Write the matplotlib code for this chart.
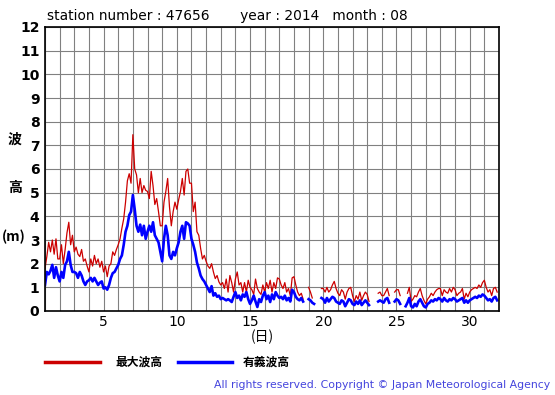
import numpy as np
import matplotlib
matplotlib.use("Agg")
import matplotlib.pyplot as plt
from matplotlib.lines import Line2D

plt.rcParams['font.family'] = ['DejaVu Sans', 'Noto Sans CJK JP']

station = "47656"
year = "2014"
month = "08"

# 3-hourly values, one row per day (Aug 1 .. Aug 31), nan = missing
hmax = [
    1.8, 2.3, 2.9, 2.5, 3.0, 2.4, 3.05, 2.2,
    2.2, 2.8, 2.0, 2.6, 3.3, 3.75, 2.8, 3.2,
    2.5, 2.7, 2.4, 2.3, 2.6, 2.1, 2.2, 1.9,
    1.65, 2.2, 1.9, 2.35, 2.0, 2.2, 1.85, 2.1,
    1.65, 1.9, 1.45, 1.9, 2.0, 2.5, 2.35, 2.6,
    2.8, 3.05, 3.5, 3.9, 4.6, 5.5, 5.8, 5.4,
    7.45, 6.0, 5.75, 5.0, 5.6, 5.0, 5.3, 5.1,
    5.05, 4.75, 5.9, 5.3, 4.5, 4.75, 4.2, 3.6,
    3.6, 4.6, 5.05, 5.6, 4.4, 3.6, 4.2, 4.6,
    4.3, 4.7, 5.05, 5.6, 4.9, 5.9, 6.0, 5.4,
    5.4, 4.2, 4.6, 3.35, 3.2, 2.65, 2.2, 2.35,
    2.1, 1.9, 1.8, 2.0, 1.65, 1.37, 1.5, 1.23,
    1.1, 1.2, 0.95, 1.35, 0.8, 1.5, 1.2, 0.8,
    1.35, 1.65, 1.1, 1.2, 0.8, 1.2, 0.8, 1.3,
    1.0, 0.9, 0.7, 1.35, 0.95, 0.8, 0.7, 1.1,
    0.8, 1.2, 0.95, 1.3, 0.8, 1.2, 0.95, 1.4,
    1.35, 1.1, 0.95, 1.2, 0.8, 0.95, 0.65, 1.4,
    1.45, 1.1, 0.8, 0.65, 0.75, 0.5, np.nan, np.nan,
    1.0, 0.8, 0.55, np.nan, np.nan, np.nan, np.nan, 0.95,
    0.95, 0.8, 1.0, 0.8, 0.9, 1.1, 1.25, 0.95,
    0.75, 0.65, 0.9, 0.8, 0.5, 0.8, 0.95, 1.0,
    0.65, 0.4, 0.65, 0.5, 0.8, 0.45, 0.65, 0.8,
    0.7, 0.4, np.nan, np.nan, np.nan, np.nan, 0.75, 0.8,
    0.65, 0.65, 0.8, 0.95, 0.65, np.nan, np.nan, 0.8,
    0.9, 0.9, 0.65, np.nan, np.nan, np.nan, 0.75, 1.0,
    0.4, 0.5, 0.65, 0.6, 0.8, 0.95, 0.65, 0.45,
    0.3, 0.5, 0.6, 0.75, 0.65, 0.8, 0.9, 0.95,
    0.95, 0.65, 0.9, 0.8, 0.75, 0.95, 0.8, 1.0,
    0.9, 0.65, 0.75, 0.8, 0.95, 0.5, 0.75, 0.6,
    0.8, 0.9, 0.95, 1.0, 0.95, 1.1, 1.0, 1.2,
    1.3, 1.0, 0.8, 0.9, 0.65, 0.95, 1.0, 0.8,
]

hsig = [
    1.1, 1.65, 1.55, 1.7, 1.95, 1.4, 1.85, 1.5,
    1.25, 1.65, 1.4, 1.95, 2.1, 2.5, 1.95, 1.65,
    1.65, 1.6, 1.4, 1.65, 1.5, 1.25, 1.1, 1.25,
    1.3, 1.4, 1.25, 1.4, 1.25, 1.1, 1.2, 1.25,
    0.95, 1.0, 0.9, 1.1, 1.4, 1.6, 1.65, 1.8,
    1.95, 2.2, 2.35, 2.8, 3.35, 3.6, 4.05, 4.2,
    4.9, 4.3, 3.6, 3.35, 3.65, 3.2, 3.6, 3.05,
    3.35, 3.6, 3.35, 3.75, 3.2, 3.05, 2.9, 2.5,
    2.1, 3.05, 3.6, 3.2, 2.35, 2.2, 2.5, 2.35,
    2.65, 2.9, 3.35, 3.6, 3.05, 3.75, 3.7, 3.6,
    3.05, 2.8, 2.5, 2.05, 1.8, 1.5, 1.35, 1.25,
    1.1, 0.95, 0.8, 1.05, 0.65, 0.75, 0.6, 0.65,
    0.5, 0.55, 0.5, 0.45, 0.5, 0.45, 0.38, 0.6,
    0.8, 0.55, 0.65, 0.45, 0.7, 0.6, 0.8, 0.5,
    0.3, 0.45, 0.65, 0.4, 0.17, 0.5, 0.38, 0.65,
    0.8, 0.5, 0.65, 0.38, 0.7, 0.5, 0.8, 0.65,
    0.55, 0.6, 0.5, 0.65, 0.45, 0.55, 0.4, 0.9,
    0.8, 0.6, 0.5, 0.45, 0.55, 0.4, np.nan, np.nan,
    0.5, 0.45, 0.35, 0.3, np.nan, np.nan, np.nan, 0.55,
    0.5, 0.35, 0.55, 0.4, 0.5, 0.6, 0.55, 0.4,
    0.35, 0.3, 0.45, 0.4, 0.2, 0.35, 0.5, 0.45,
    0.3, 0.25, 0.4, 0.3, 0.45, 0.25, 0.35, 0.45,
    0.35, 0.25, np.nan, np.nan, np.nan, np.nan, 0.4, 0.45,
    0.4, 0.35, 0.5, 0.55, 0.35, np.nan, np.nan, 0.4,
    0.5, 0.45, 0.3, np.nan, np.nan, 0.2, 0.35, 0.55,
    0.2, 0.15, 0.3, 0.2, 0.4, 0.5, 0.35, 0.2,
    0.15, 0.3, 0.35, 0.45, 0.4, 0.5, 0.45, 0.55,
    0.5, 0.4, 0.55, 0.45, 0.4, 0.5, 0.45, 0.55,
    0.5, 0.4, 0.45, 0.5, 0.55, 0.35, 0.45, 0.35,
    0.45, 0.5, 0.55, 0.6, 0.55, 0.65, 0.6, 0.7,
    0.65, 0.55, 0.45, 0.5, 0.4, 0.55, 0.6, 0.45,
]

step_h = 3
days = 1 + np.arange(len(hmax)) * step_h / 24.0

red = '#cc0000'
blue = '#0000ff'

fig = plt.figure(figsize=(5.55, 3.95), dpi=100)
ax = fig.add_axes([45 / 555, 84 / 395, 454 / 555, 284 / 395])

ax.plot(days, hmax, color=red, lw=0.9)
ax.plot(days, hsig, color=blue, lw=1.9)

ax.set_xlim(1, 32)
ax.set_ylim(0, 12)
ax.set_xticks([5, 10, 15, 20, 25, 30])
ax.set_xticks(np.arange(1, 33), minor=True)
ax.set_yticks(np.arange(0, 13))
ax.grid(True, which='both', color='#808080', lw=0.8)
ax.set_axisbelow(True)
ax.tick_params(axis='both', which='both', length=0)
ax.tick_params(axis='x', labelsize=10, pad=3)
ax.tick_params(axis='y', labelsize=10, pad=4)
for lab in ax.get_yticklabels():
    lab.set_fontweight('bold')
for sp in ax.spines.values():
    sp.set_linewidth(1.2)

fig.text(47 / 555, 1 - 16 / 395,
         "station number : %s       year : %s   month : %s" % (station, year, month),
         fontsize=9.9, va='center', ha='left')

cjk = ['Noto Sans CJK JP', 'DejaVu Sans']
fig.text(15 / 555, 1 - 140 / 395, "波", family=cjk, fontsize=10, fontweight='bold',
         ha='center', va='center')
fig.text(15 / 555, 1 - 188 / 395, "高", family=cjk, fontsize=10, fontweight='bold',
         ha='center', va='center')
fig.text(14 / 555, 1 - 237 / 395, "(m)", family=cjk, fontsize=10, fontweight='bold',
         ha='center', va='center')
fig.text(262 / 555, 1 - 337 / 395, "(日)", family=cjk, fontsize=10,
         ha='center', va='center')

fig.add_artist(Line2D([45 / 555, 100 / 555], [1 - 362 / 395] * 2, color=red, lw=2.5,
                      transform=fig.transFigure))
fig.text(115 / 555, 1 - 362 / 395, "最大波高", family=cjk, fontsize=8.5, fontweight='bold',
         va='center', ha='left')
fig.add_artist(Line2D([178 / 555, 232 / 555], [1 - 362 / 395] * 2, color=blue, lw=2.5,
                      transform=fig.transFigure))
fig.text(243 / 555, 1 - 362 / 395, "有義波高", family=cjk, fontsize=8.5, fontweight='bold',
         va='center', ha='left')

fig.text(550 / 555, 1 - 385 / 395,
         "All rights reserved. Copyright © Japan Meteorological Agency",
         fontsize=7.8, color='#4444dd', ha='right', va='center')

fig.savefig('out.png', dpi=100)
